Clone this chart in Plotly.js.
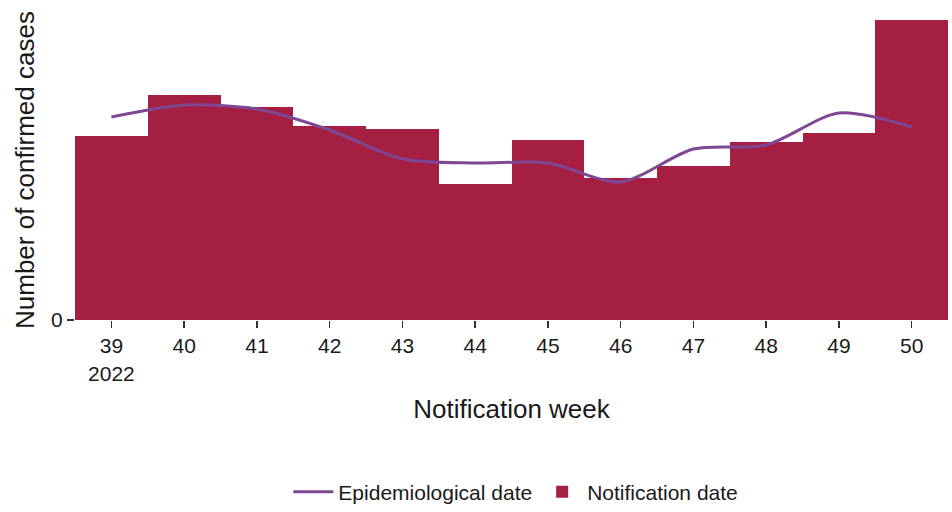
<!DOCTYPE html>
<html>
<head>
<meta charset="utf-8">
<script src="https://cdn.plot.ly/plotly-3.0.1.min.js"></script>
<style>html,body{margin:0;padding:0;background:#fff;}#chart{width:952px;height:512px;}</style>
</head>
<body>
<div id="chart"></div>
<script>
const weeks = [39, 40, 41, 42, 43, 44, 45, 46, 47, 48, 49, 50];
const weekLabels = ["39<br>2022", "40", "41", "42", "43", "44", "45", "46", "47", "48", "49", "50"];
const notificationCases = [184, 225, 213, 194, 191, 136, 180, 142, 154, 178, 187, 300];
const epidemiologicalCases = [203, 215, 211, 190, 161, 157, 157, 138, 171, 175, 207, 193];

const bars = {
  type: 'bar',
  x: weeks,
  y: notificationCases,
  name: 'Notification date',
  marker: {color: '#A51F43', line: {width: 0}},
  legendrank: 2,
  hoverinfo: 'x+y'
};
const line = {
  type: 'scatter',
  mode: 'lines',
  x: weeks,
  y: epidemiologicalCases,
  name: 'Epidemiological date',
  line: {color: '#7E4794', width: 3, shape: 'spline', smoothing: 0.8},
  legendrank: 1
};

const plotTop = 5, plotBottom = 320;
const plotH = plotBottom - plotTop;

const layout = {
  width: 952,
  height: 512,
  margin: {l: 75, r: 4, t: plotTop, b: 512 - plotBottom, autoexpand: false},
  paper_bgcolor: '#fff',
  plot_bgcolor: '#fff',
  bargap: 0,
  font: {family: 'Liberation Sans, Arial, sans-serif', color: '#1a1a1a'},
  showlegend: true,
  legend: {
    orientation: 'h', x: 0.505, xanchor: 'center', y: (plotBottom - 492) / plotH, yanchor: 'middle',
    font: {size: 21, color: '#1a1a1a'}, traceorder: 'normal', itemwidth: 40
  },
  xaxis: {
    range: [38.5, 50.5],
    tickvals: weeks,
    ticktext: weekLabels,
    ticks: 'outside', ticklen: 7, tickwidth: 1.5, tickcolor: '#333',
    showgrid: false, zeroline: false, showline: false, automargin: false,
    tickfont: {size: 21, color: '#1a1a1a'},
    title: {text: 'Notification week', font: {size: 26, color: '#1a1a1a'}, standoff: 16}
  },
  yaxis: {
    range: [0, plotH],
    tickvals: [0],
    ticktext: ['0'],
    ticks: 'outside', ticklen: 7, tickwidth: 1.5, tickcolor: '#333',
    showgrid: false, zeroline: false, showline: false, automargin: false,
    tickfont: {size: 21, color: '#1a1a1a'}
  },
  annotations: [{
    text: 'Number of confirmed cases',
    textangle: -90,
    xref: 'paper', yref: 'paper',
    x: (25 - 75) / 873, y: (plotBottom - 170) / plotH,
    xanchor: 'center', yanchor: 'middle',
    showarrow: false,
    font: {size: 26, color: '#1a1a1a'}
  }]
};

Plotly.newPlot('chart', [bars, line], layout, {displayModeBar: false, staticPlot: true});
</script>
</body>
</html>
